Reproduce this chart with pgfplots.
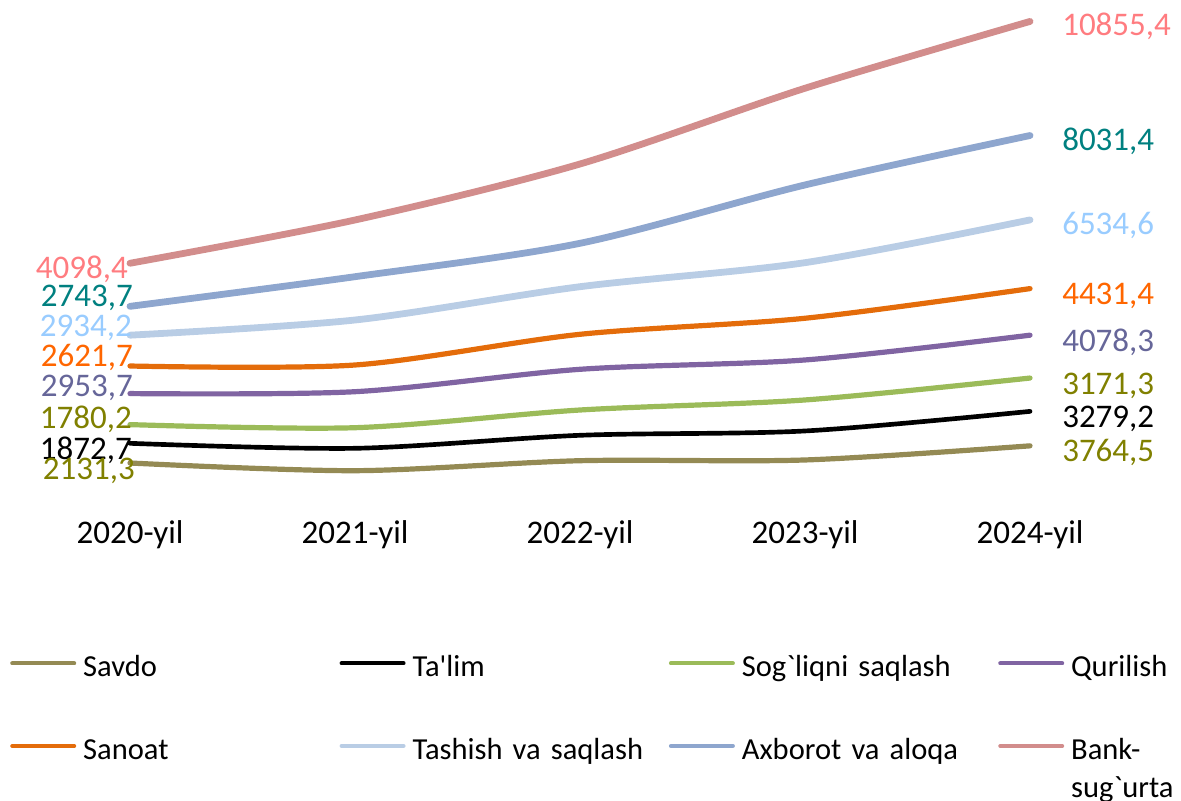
\documentclass[border=0pt]{standalone}
\usepackage{fontspec}
\setmainfont{Carlito}
\newfontfamily\cb{Carlito}
\usepackage{pgfplots}
\pgfplotsset{compat=1.18}
\definecolor{cSavdo}{HTML}{948A54}
\definecolor{cTalim}{HTML}{000000}
\definecolor{cSog}{HTML}{9BBB59}
\definecolor{cQur}{HTML}{8064A2}
\definecolor{cSan}{HTML}{E46C0A}
\definecolor{cTash}{HTML}{B9CDE5}
\definecolor{cAx}{HTML}{8EA6CE}
\definecolor{cBank}{HTML}{D28D8C}
\definecolor{lBank}{HTML}{FF7C80}
\definecolor{lAx}{HTML}{008080}
\definecolor{lTash}{HTML}{99CCFF}
\definecolor{lSan}{HTML}{FF6600}
\definecolor{lQur}{HTML}{666699}
\definecolor{lOl}{HTML}{808000}
\begin{document}
\begin{tikzpicture}
\path[use as bounding box] (0,0) rectangle (885.75pt,600pt);
\begin{axis}[
  at={(97.5pt,235.95pt)}, anchor=south west,
  scale only axis, width=675pt, height=354.71pt,
  xmin=0, xmax=4, ymin=0, ymax=45000,
  stack plots=y, clip=false,
  xtick={0,1,2,3,4},
  xticklabels={2020-yil,2021-yil,2022-yil,2023-yil,2024-yil},
  xticklabel style={font=\cb\fontsize{24.75pt}{29pt}\selectfont, anchor=base, yshift=-43.2pt, inner sep=0pt},
  ytick=\empty,
  axis line style={draw=none}, tick style={draw=none},
  every axis plot/.append style={smooth, tension=0.5, line cap=round, line join=round},
  legend columns=4,
  legend image code/.code={\draw[#1, line width=3pt] (0pt,10pt) -- (46.5pt,10pt);},
  legend style={at={(axis description cs:-0.13305,-0.36219)}, anchor=north west,
    draw=none, fill=none, inner sep=0pt, outer sep=0pt,
    font=\cb\fontsize{22.9pt}{28.5pt}\selectfont,
    /tikz/row sep=42.45pt,
    cells={anchor=base west},
    nodes={inner sep=0pt, text width=187.5pt, text height=15pt, text depth=4.5pt},
    /tikz/every odd column/.append style={column sep=5.2pt},
    /tikz/every even column/.append style={column sep=4.8pt}},
]
\addplot[color=cSavdo, line width=3.9pt] coordinates {(0,2131.3) (1,1400) (2,2350) (3,2420) (4,3764.5)};
\addlegendentry{Savdo}
\addplot[color=cTalim, line width=3.5pt] coordinates {(0,1872.7) (1,2130) (2,2417) (3,2760) (4,3279.2)};
\addlegendentry{Ta'lim}
\addplot[color=cSog, line width=3.9pt] coordinates {(0,1780.2) (1,1960) (2,2407) (3,2950) (4,3171.3)};
\addlegendentry{Sog`liqni saqlash}
\addplot[color=cQur, line width=3.9pt] coordinates {(0,2953.7) (1,3426) (2,3873) (3,3806) (4,4078.3)};
\addlegendentry{Qurilish}
\addplot[color=cSan, line width=3.9pt] coordinates {(0,2621.7) (1,2540) (2,3330) (3,3968) (4,4431.4)};
\addlegendentry{Sanoat}
\addplot[color=cTash, line width=5.1pt] coordinates {(0,2934.2) (1,4282) (2,4529) (3,5290) (4,6534.6)};
\addlegendentry{Tashish va saqlash}
\addplot[color=cAx, line width=5.1pt] coordinates {(0,2743.7) (1,4120) (2,4130) (3,7393) (4,8031.4)};
\addlegendentry{Axborot  va aloqa}
\addplot[color=cBank, line width=5.1pt] coordinates {(0,4098.4) (1,5395) (2,7545) (3,9201) (4,10855.4)};
\addlegendentry{\begin{tabular}[t]{@{}l@{}}Bank-\\sug`urta\end{tabular}}
\end{axis}
\begin{scope}[x=0.75pt, y=-0.75pt, yshift=600pt, every node/.style={inner sep=0pt, font=\cb\fontsize{24.75pt}{29pt}\selectfont}]
\node[anchor=base east, text=lBank] at (128,279) {4098,4};
\node[anchor=base east, text=lAx] at (133,307) {2743,7};
\node[anchor=base east, text=lTash] at (132,337) {2934,2};
\node[anchor=base east, text=lSan] at (133,367) {2621,7};
\node[anchor=base east, text=lQur] at (133,397) {2953,7};
\node[anchor=base east, text=lOl] at (132,429) {1780,2};
\node[anchor=base east, text=black] at (132,460) {1872,7};
\node[anchor=base east, text=lOl] at (135,480) {2131,3};
\node[anchor=base west, text=lBank] at (1062,36) {10855,4};
\node[anchor=base west, text=lAx] at (1062,151) {8031,4};
\node[anchor=base west, text=lTash] at (1062,235) {6534,6};
\node[anchor=base west, text=lSan] at (1062,305) {4431,4};
\node[anchor=base west, text=lQur] at (1062,352) {4078,3};
\node[anchor=base west, text=lOl] at (1062,395) {3171,3};
\node[anchor=base west, text=black] at (1062,428) {3279,2};
\node[anchor=base west, text=lOl] at (1062,462) {3764,5};
\end{scope}
\end{tikzpicture}
\end{document}
